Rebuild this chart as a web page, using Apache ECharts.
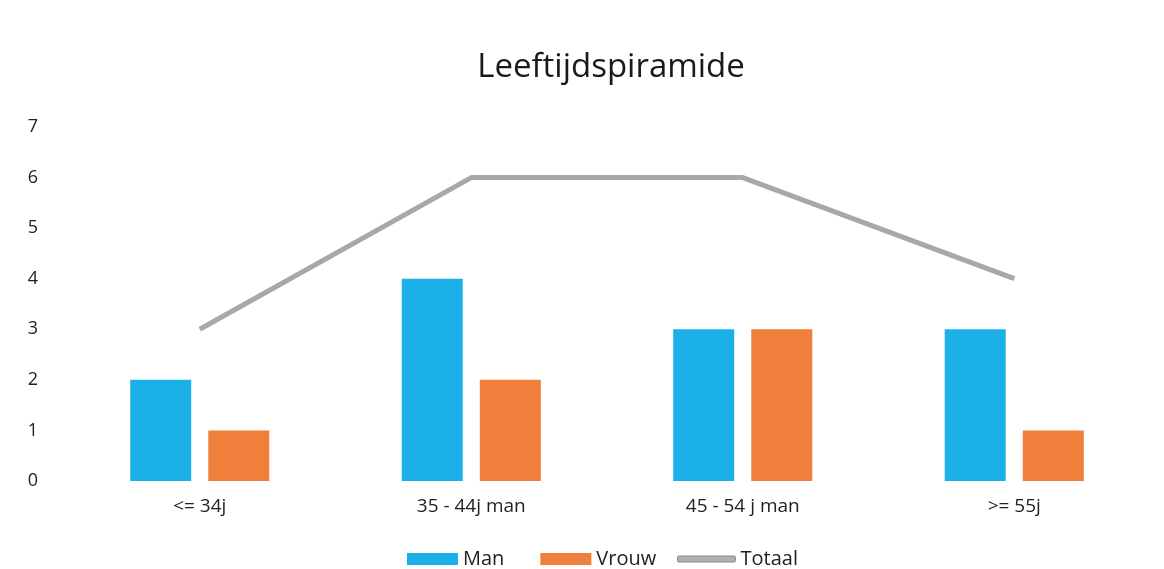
<!DOCTYPE html>
<html>
<head>
<meta charset="utf-8">
<script src="https://cdn.jsdelivr.net/npm/echarts@6/dist/echarts.min.js"></script>
<style>html,body{margin:0;padding:0;background:#fff;}#c{width:1164px;height:569px;}</style>
</head>
<body>
<div id="c"></div>
<script>
const categories = ['<= 34j', '35 - 44j man', '45 - 54 j man', '>= 55j'];
const manValues = [2, 4, 3, 3];
const vrouwValues = [1, 2, 3, 1];
const totaalValues = [3, 6, 6, 4];
const yTicks = [0, 7, 1];

const chart = echarts.init(document.getElementById('c'));
const font = 'Open Sans';
chart.setOption({
  animation: false,
  backgroundColor: '#ffffff',
  title: {
    text: 'Leeftijdspiramide',
    left: 606,
    textAlign: 'center',
    top: 46,
    textStyle: {fontFamily: font, fontSize: 33, fontWeight: 'normal', color: '#1a1a1a'}
  },
  legend: [
    {
      top: 544,
      left: 402,
      itemGap: 36,
      itemWidth: 51,
      itemHeight: 12,
      textStyle: {fontFamily: font, fontSize: 20, color: '#222'},
      data: [
        {name: 'Man', icon: 'rect'},
        {name: 'Vrouw', icon: 'rect'}
      ]
    },
    {
      top: 544,
      left: 672,
      itemWidth: 58,
      itemHeight: 6,
      textStyle: {fontFamily: font, fontSize: 20, color: '#222'},
      data: [{name: 'Totaal', icon: 'roundRect', itemStyle: {color: '#b0b0b0', borderColor: '#8a8a8a', borderWidth: 1}}]
    }
  ],
  grid: {left: 64, right: 14, top: 127, bottom: 88},
  xAxis: {
    type: 'category',
    data: categories,
    axisLine: {show: false},
    axisTick: {show: false},
    axisLabel: {fontFamily: font, fontSize: 19, color: '#222', margin: 16}
  },
  yAxis: {
    type: 'value',
    min: yTicks[0], max: yTicks[1], interval: yTicks[2],
    axisLine: {show: false},
    axisTick: {show: false},
    splitLine: {show: false},
    axisLabel: {fontFamily: font, fontSize: 18, color: '#222', margin: 31, align: 'center'}
  },
  series: [
    {name: 'Man', type: 'bar', data: manValues, barWidth: 61, barGap: '28%', itemStyle: {color: '#1cb0e8'}},
    {name: 'Vrouw', type: 'bar', data: vrouwValues, barWidth: 61, itemStyle: {color: '#f07f3c'}},
    {name: 'Totaal', type: 'line', data: totaalValues, symbol: 'none', lineStyle: {color: '#a8a8a8', width: 5}, itemStyle: {color: '#a8a8a8'}}
  ]
});
</script>
</body>
</html>
